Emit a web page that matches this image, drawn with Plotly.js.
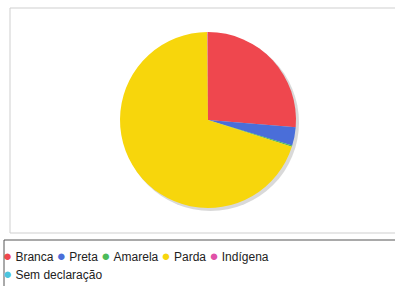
<!DOCTYPE html>
<html><head><meta charset="utf-8">
<script src="https://cdn.plot.ly/plotly-3.0.1.min.js"></script>
<style>body{margin:0;background:#fff}#c{width:395px;height:286px}</style>
</head><body><div id="c"></div>
<script>
var categories = ["Branca", "Preta", "Amarela", "Parda", "Indígena", "Sem declaração"];
var values = [26.3, 3.4, 0.2, 70.0, 0.1, 0.0];
var colors = ["#ef474e", "#4a6ed9", "#4cbb5a", "#f7d60c", "#e052a8", "#4cc4dc"];

var W = 395, H = 286;
var cx = 208, cy = 120, r = 88;
function px(x){return x/W;}
function py(y){return 1 - y/H;}

var trace = {
  type: "pie",
  labels: categories,
  values: values,
  marker: {colors: colors, line: {width: 0}},
  sort: false,
  direction: "clockwise",
  rotation: 0,
  textinfo: "none",
  hoverinfo: "label+percent",
  showlegend: false,
  domain: {x: [px(cx - r), px(cx + r)], y: [py(cy + r), py(cy - r)]}
};

function legendRow(idx){
  return idx.map(function(i){
    return '<span style="color:' + colors[i] + ';font-size:15px">●</span>&nbsp;' + categories[i];
  }).join('&nbsp;');
}

var layout = {
  width: W, height: H,
  margin: {l: 0, r: 0, t: 0, b: 0},
  paper_bgcolor: "#ffffff",
  font: {family: "Liberation Sans, Arial, sans-serif", size: 12, color: "#222"},
  shapes: [
    {type: "rect", xref: "paper", yref: "paper", x0: px(10), x1: px(398), y0: py(233), y1: py(8),
     line: {color: "#cfcfcf", width: 1}, fillcolor: "rgba(0,0,0,0)", layer: "below"},
    {type: "circle", xref: "paper", yref: "paper", x0: px(cx - r + 2), x1: px(cx + r + 3), y0: py(cy + r + 3), y1: py(cy - r + 2),
     line: {width: 0}, fillcolor: "rgba(130,130,130,0.3)", layer: "below"},
    {type: "rect", xref: "paper", yref: "paper", x0: px(4), x1: px(400), y0: py(290), y1: py(240),
     line: {color: "#555", width: 1}, fillcolor: "rgba(0,0,0,0)", layer: "above"}
  ],
  annotations: [
    {xref: "paper", yref: "paper", x: px(1), y: py(255), xanchor: "left", yanchor: "middle",
     showarrow: false, align: "left", text: legendRow([0,1,2,3,4]), font: {size: 12}},
    {xref: "paper", yref: "paper", x: px(1), y: py(273), xanchor: "left", yanchor: "middle",
     showarrow: false, align: "left", text: legendRow([5]), font: {size: 12}}
  ]
};

Plotly.newPlot("c", [trace], layout, {displayModeBar: false, staticPlot: true});
</script>
</body></html>
